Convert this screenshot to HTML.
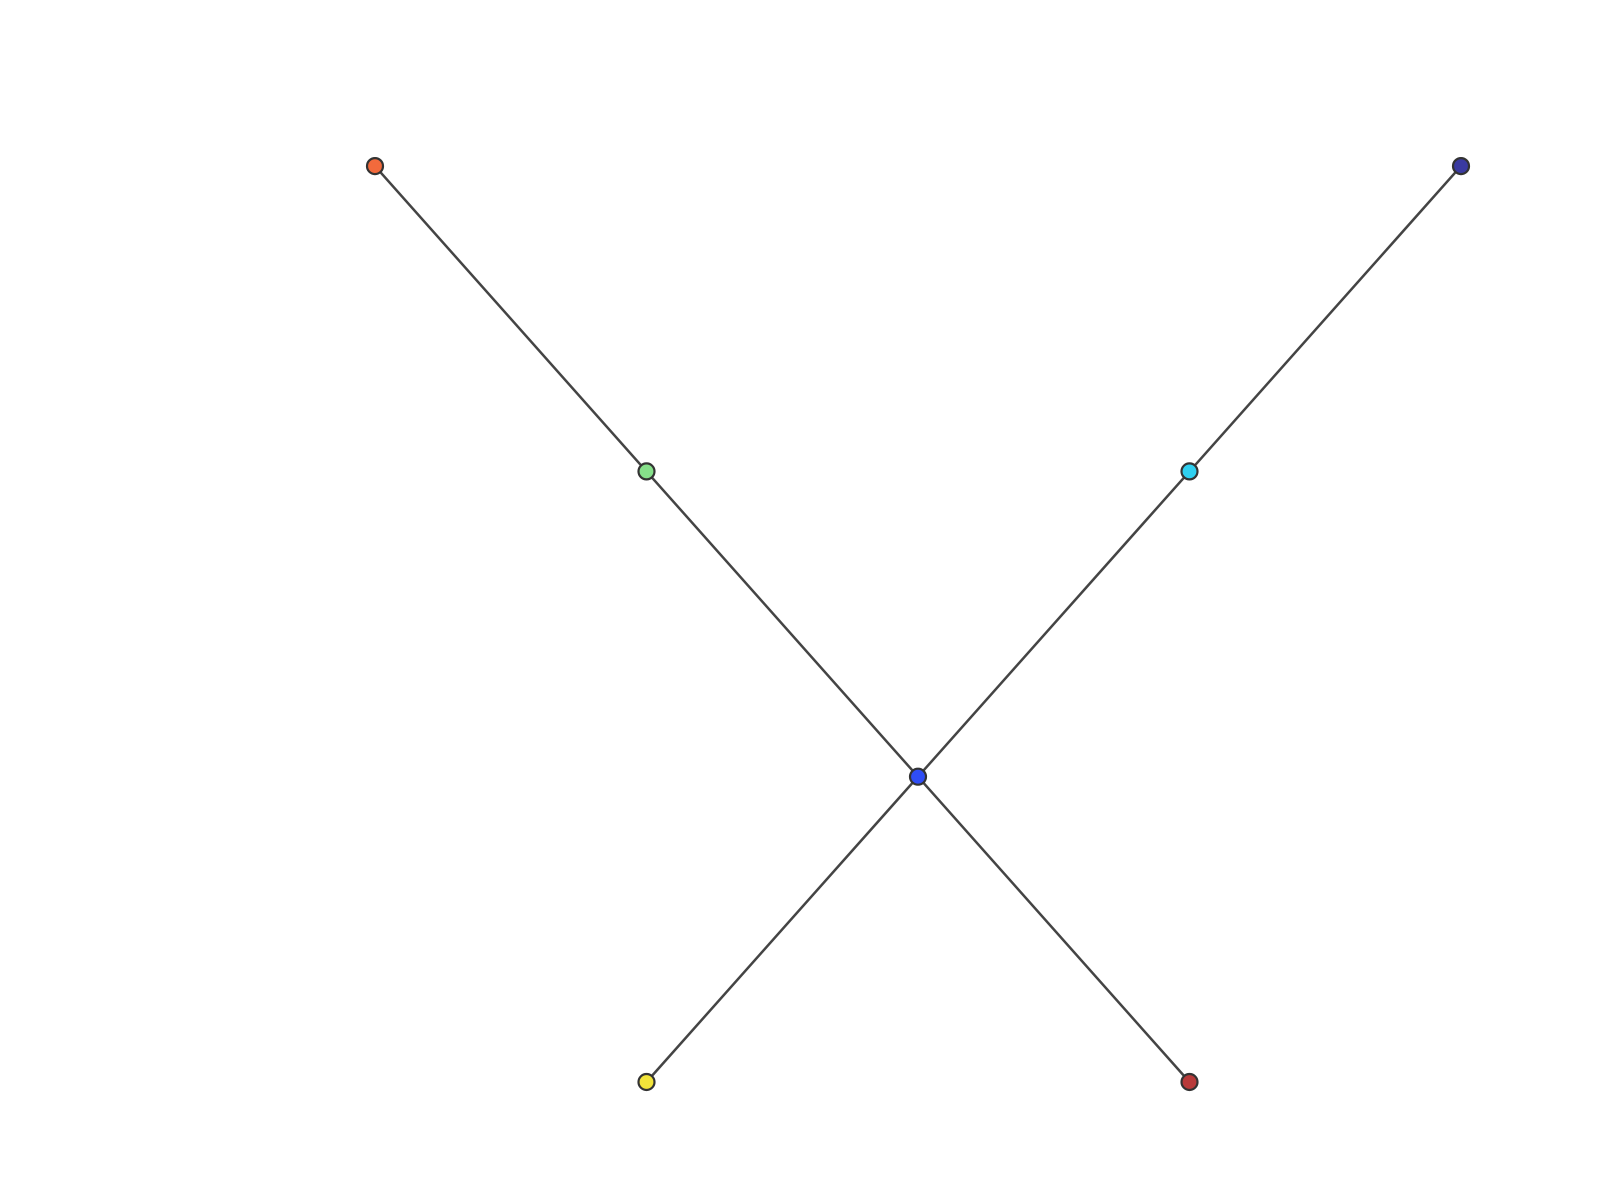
<!DOCTYPE html>
<html><head><meta charset="utf-8"><style>html,body{margin:0;background:#fff;}svg{display:block}</style></head>
<body>
<svg id="chart" width="1600" height="1200" viewBox="0 0 1600 1200" xmlns="http://www.w3.org/2000/svg"></svg>
<script>
const nodeNames = ['orange','green','blue','darkred','yellow','cyan','navy'];
const nodeX = [0, 1, 2, 3, 1, 3, 4];
const nodeY = [3, 2, 1, 0, 0, 2, 3];
const nodeColors = ['#f26a3c','#86e08a','#2f4df5','#b83a3a','#f2e43a','#2fd0f0','#3a3aa0'];
const edgeFrom = [0, 1, 2, 4, 2, 5];
const edgeTo   = [1, 2, 3, 2, 5, 6];

const sx = v => 375 + v * 271.5;
const sy = v => 1082 - v * 305.3;
const svg = document.getElementById('chart');
const NS = 'http://www.w3.org/2000/svg';
for (let i = 0; i < edgeFrom.length; i++) {
  const l = document.createElementNS(NS, 'line');
  l.setAttribute('x1', sx(nodeX[edgeFrom[i]])); l.setAttribute('y1', sy(nodeY[edgeFrom[i]]));
  l.setAttribute('x2', sx(nodeX[edgeTo[i]])); l.setAttribute('y2', sy(nodeY[edgeTo[i]]));
  l.setAttribute('stroke', '#444'); l.setAttribute('stroke-width', '2.5');
  
  
  svg.appendChild(l);
}
for (let i = 0; i < nodeX.length; i++) {
  const c = document.createElementNS(NS, 'circle');
  c.setAttribute('cx', sx(nodeX[i])); c.setAttribute('cy', sy(nodeY[i]));
  c.setAttribute('r', '8');
  c.setAttribute('fill', nodeColors[i]);
  c.setAttribute('stroke', '#333'); c.setAttribute('stroke-width', '2.2');
  
  
  svg.appendChild(c);
}
</script>
</body></html>
